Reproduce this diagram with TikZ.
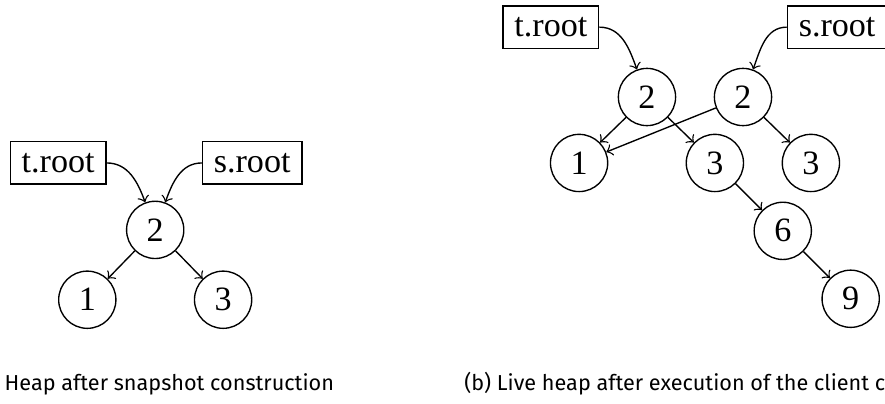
\documentclass[tikz,border=0pt]{standalone}
\usepackage{fontspec}
\setmainfont{Liberation Serif}
\newfontfamily\capfont{Fira Sans}
\usepackage{tikz}
\usetikzlibrary{positioning}

\begin{document}
\begin{tikzpicture}[
		heapnode/.style={circle,draw,minimum size=5.9mm,inner sep=0pt},
		varbox/.style={rectangle,draw,inner sep=0.333em},
		ptr/.style={->},
		caption/.style={inner sep=0pt,font=\capfont\fontsize{6.35}{8}\selectfont}]
		\useasboundingbox (0,0) rectangle (9.124,-4.155);
		% (a) snapshot
		\node[varbox] (troota) at (0.6,-1.68) {t.root};
		\node[varbox] (roota) at (2.6,-1.68) {s.root};
		\node[heapnode] (a2) at (1.6,-2.37) {2};
		\node[heapnode] (a1) at (0.9,-3.09) {1};
		\node[heapnode] (a3) at (2.3,-3.09) {3};
		\draw[ptr] (troota.east) to[out=0,in=110] (a2);
		\draw[ptr] (roota.west) to[out=180,in=70] (a2);
		\draw[ptr] (a2) -- (a1);
		\draw[ptr] (a2) -- (a3);
		\node[caption,anchor=base east] (capa) at (3.45,-4.03) {(a) Heap after snapshot construction};
		% (b) live heap
		\node[varbox] (trootb) at (5.68,-0.28) {t.root};
		\node[varbox] (srootb) at (8.63,-0.28) {s.root};
		\node[heapnode] (b2) at (6.67,-1.0) {2};
		\node[heapnode] (c2) at (7.66,-1.0) {2};
		\node[heapnode] (b1) at (5.97,-1.68) {1};
		\node[heapnode] (b3) at (7.37,-1.68) {3};
		\node[heapnode] (c3) at (8.36,-1.68) {3};
		\node[heapnode] (b6) at (8.07,-2.38) {6};
		\node[heapnode] (b9) at (8.77,-3.08) {9};
		\draw[ptr] (trootb.east) to[out=0,in=110] (b2);
		\draw[ptr] (srootb.west) to[out=180,in=70] (c2);
		\draw[ptr] (b2) -- (b1);
		\draw[ptr] (b2) -- (b3);
		\draw[ptr] (c2) -- (b1);
		\draw[ptr] (c2) -- (c3);
		\draw[ptr] (b3) -- (b6);
		\draw[ptr] (b6) -- (b9);
		\node[caption,anchor=base west] (capb) at (4.78,-4.03) {(b) Live heap after execution of the client code};
	\end{tikzpicture}
\end{document}
